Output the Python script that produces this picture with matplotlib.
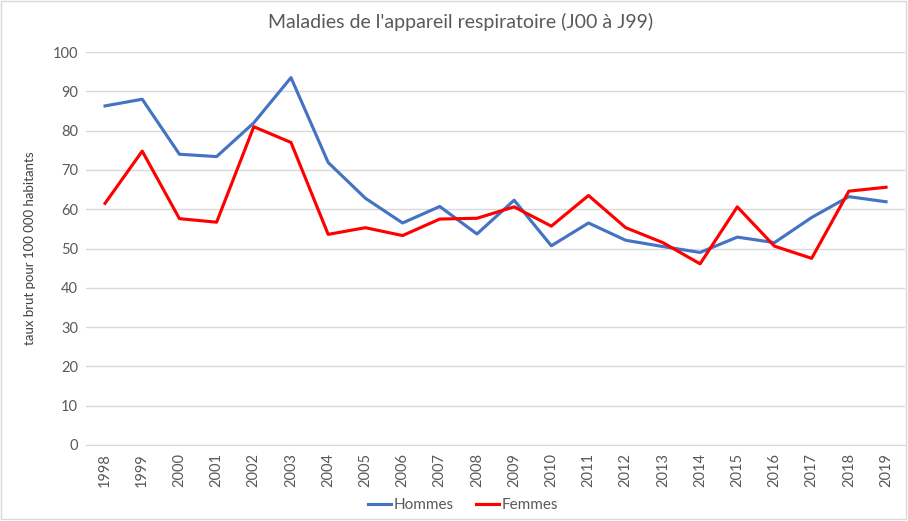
import matplotlib
matplotlib.use("Agg")
import matplotlib.pyplot as plt

years = [str(y) for y in range(1998, 2020)]
hommes = [86.3, 88.0, 74.0, 73.4, 82.0, 93.5, 71.9, 62.8, 56.5, 60.7, 53.7,
          62.3, 50.7, 56.5, 52.1, 50.5, 49.0, 52.9, 51.5, 57.9, 63.2, 61.9]
femmes = [61.5, 74.8, 57.6, 56.7, 81.0, 77.0, 53.6, 55.3, 53.3, 57.5, 57.7,
          60.6, 55.7, 63.5, 55.3, 51.5, 46.1, 60.6, 50.6, 47.5, 64.6, 65.6]
yticks = list(range(0, 101, 10))

plt.rcParams['font.family'] = ['Lato', 'DejaVu Sans']
txt = '#595959'

fig = plt.figure(figsize=(9.08, 5.21), dpi=100)
ax = fig.add_axes([0.0952, 0.146, 0.9011, 0.754])

x = list(range(len(years)))
ax.plot(x, hommes, color='#4472C4', lw=2.25, label='Hommes')
ax.plot(x, femmes, color='#FF0000', lw=2.25, label='Femmes')

ax.set_xlim(-0.5, len(years) - 0.5)
ax.set_ylim(0, 100)
ax.set_yticks(yticks)
ax.set_yticklabels([str(v) for v in yticks], fontsize=10.5, color=txt)
ax.set_xticks(x)
ax.set_xticklabels(years, rotation=90, fontsize=10.5, color=txt)
ax.tick_params(axis='both', length=0, pad=6)
ax.grid(axis='y', color='#d9d9d9', lw=1)
ax.set_axisbelow(True)
for s in ['top', 'right', 'left']:
    ax.spines[s].set_visible(False)
ax.spines['bottom'].set_color('#d9d9d9')

fig.text(0.507, 0.957, "Maladies de l'appareil respiratoire (J00 à J99)",
         fontsize=14, color=txt, ha='center', va='center')
ax.set_ylabel('taux brut pour 100 000 habitants', fontsize=9.5, color='#404040',
              labelpad=12)

leg = fig.legend(loc='center', bbox_to_anchor=(0.51, 0.031), ncol=2,
                 frameon=False, fontsize=11, handlelength=1.5,
                 columnspacing=1.5, handletextpad=0.15)
for t in leg.get_texts():
    t.set_color(txt)

fig.patches.append(plt.Rectangle((0.001, 0.004), 0.997, 0.994, transform=fig.transFigure,
                                 fill=False, edgecolor='#d9d9d9', lw=1))

fig.savefig('out.png', dpi=100)
